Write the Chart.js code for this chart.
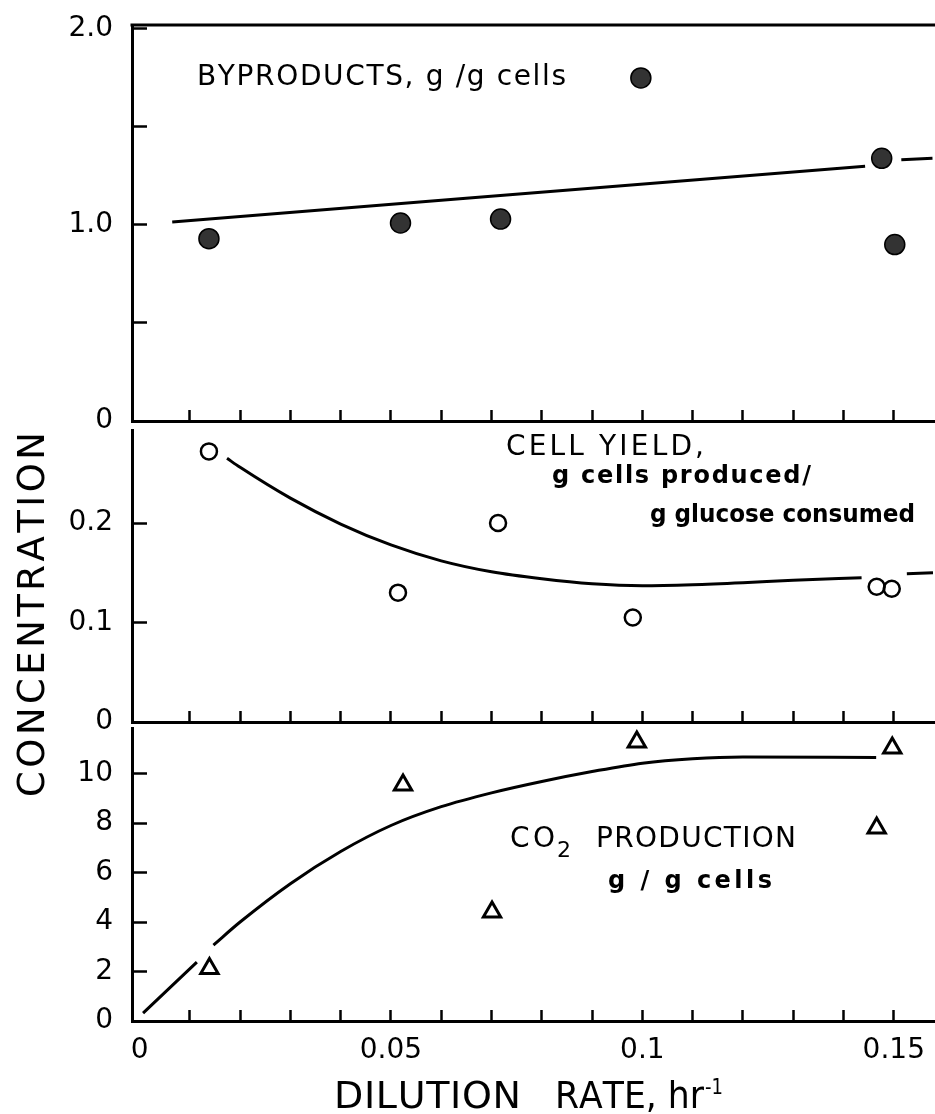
<!DOCTYPE html>
<html>
<head>
<meta charset="utf-8">
<script src="https://cdn.jsdelivr.net/npm/chart.js@4.4.1/dist/chart.umd.min.js"></script>
<style>
  html, body { margin: 0; padding: 0; background: #fff; }
  #sheet { position: relative; width: 935px; height: 1114px; overflow: hidden; background: #fff; }
  #sheet canvas { position: absolute; left: 0; top: 0; }
</style>
</head>
<body>
<div id="sheet">
  <canvas id="byproducts" width="935" height="1114"></canvas>
  <canvas id="yield" width="935" height="1114"></canvas>
  <canvas id="co2" width="935" height="1114"></canvas>
</div>
<script>
// ---- Dilution rate axis (hr^-1), shared by all three panels ----
const X_MIN = -0.0015;
const X_MAX = 0.1582;
const X_TICKS = [0, 0.01, 0.02, 0.03, 0.04, 0.05, 0.06, 0.07, 0.08, 0.09, 0.10, 0.11, 0.12, 0.13, 0.14, 0.15];
const X_TICK_LABELS = ['0', '', '', '', '', '0.05', '', '', '', '', '0.1', '', '', '', '', '0.15'];

// ---- Byproducts, g/g cells ----
const BYPRODUCT_RATE = [0.0138, 0.0519, 0.0718, 0.0997, 0.1476, 0.1502];
const BYPRODUCT_VALUE = [0.93, 1.01, 1.03, 1.75, 1.34, 0.90];
const BYPRODUCT_FIT_RATE = [0.0065, 0.1443, 0.1480, 0.1515, 0.1577];
const BYPRODUCT_FIT_VALUE = [1.015, 1.300, null, 1.333, 1.340];
const BYPRODUCT_TICKS = [0, 0.5, 1.0, 1.5, 2.0];
const BYPRODUCT_TICK_LABELS = ['0', '', '1.0', '', '2.0'];

// ---- Cell yield, g cells produced / g glucose consumed ----
const YIELD_RATE = [0.0138, 0.0514, 0.0713, 0.0981, 0.1466, 0.1496];
const YIELD_VALUE = [0.272, 0.130, 0.200, 0.105, 0.136, 0.134];
const YIELD_FIT_RATE = [0.0174, 0.02, 0.03, 0.04, 0.05, 0.06, 0.07, 0.08, 0.09, 0.10, 0.11, 0.12, 0.13, 0.1436, 0.1480, 0.1526, 0.1578];
const YIELD_FIT_VALUE = [0.265, 0.256, 0.225, 0.199, 0.178, 0.162, 0.151, 0.144, 0.139, 0.137, 0.138, 0.140, 0.1425, 0.145, null, 0.149, 0.150];
const YIELD_TICKS = [0, 0.1, 0.2];
const YIELD_TICK_LABELS = ['0', '0.1', '0.2'];

// ---- CO2 production, g/g cells ----
const CO2_RATE = [0.0139, 0.0524, 0.0701, 0.0989, 0.1466, 0.1497];
const CO2_VALUE = [2.12, 9.54, 4.40, 11.27, 7.80, 11.03];
const CO2_FIT_RATE = [0.0007, 0.0114, 0.0130, 0.0147, 0.02, 0.03, 0.04, 0.05, 0.06, 0.07, 0.08, 0.09, 0.10, 0.11, 0.12, 0.1465];
const CO2_FIT_VALUE = [0.32, 2.38, null, 3.07, 4.00, 5.55, 6.85, 7.90, 8.66, 9.22, 9.68, 10.08, 10.42, 10.60, 10.67, 10.65];
const CO2_TICKS = [0, 2, 4, 6, 8, 10];
const CO2_TICK_LABELS = ['0', '2', '4', '6', '8', '10'];

// ---- page geometry ----
const PAGE_H = 1114;
const AXIS_LEFT = 132;
const INK = '#000';
const FONT = '"DejaVu Sans", "Liberation Sans", sans-serif';
const TICK_FONT = { family: FONT, size: 28 };

Chart.defaults.font.family = FONT;
Chart.defaults.color = INK;

const zip = (xs, ys) => xs.map((x, i) => ({ x, y: ys[i] }));

// Hand-lettered text: each glyph placed separately so the run fills a given width.
function drawLettering(ctx, item) {
  ctx.save();
  ctx.font = `${item.weight || 'normal'} ${item.size}px ${FONT}`;
  ctx.fillStyle = INK;
  ctx.textBaseline = 'alphabetic';
  ctx.textAlign = 'left';
  const chars = Array.from(item.text);
  const widths = chars.map(c => ctx.measureText(c).width);
  const natural = widths.reduce((a, b) => a + b, 0);
  let spacing = 0, sx = 1;
  if (item.width) {
    if (item.width >= natural) {
      spacing = chars.length > 1 ? (item.width - natural) / (chars.length - 1) : 0;
    } else {
      sx = item.width / natural;
    }
  }
  const total = natural + spacing * (chars.length - 1);
  ctx.translate(item.x, item.y);
  if (item.rotate) ctx.rotate(item.rotate);
  ctx.scale(sx, 1);
  let x = item.align === 'center' ? -total / 2 : 0;
  chars.forEach((c, i) => {
    ctx.fillText(c, x, 0);
    x += widths[i] + spacing;
  });
  ctx.restore();
}

const letteringPlugin = {
  id: 'lettering',
  afterDraw(chart, args, opts) {
    (opts.items || []).forEach(item => drawLettering(chart.ctx, item));
  }
};

const topFramePlugin = {
  id: 'topFrame',
  afterDraw(chart, args, opts) {
    if (!opts.show) return;
    const { ctx, chartArea } = chart;
    ctx.save();
    ctx.strokeStyle = INK;
    ctx.lineWidth = 3;
    ctx.beginPath();
    ctx.moveTo(chartArea.left - 1.5, chartArea.top);
    ctx.lineTo(chartArea.right, chartArea.top);
    ctx.stroke();
    ctx.restore();
  }
};

function xScale(areaBottom, showLabels) {
  return {
    type: 'linear',
    min: X_MIN,
    max: X_MAX,
    afterBuildTicks: s => { s.ticks = X_TICKS.map(v => ({ value: v })); },
    afterFit: s => {
      s.height = PAGE_H - areaBottom;
      s.paddingLeft = 0; s.paddingRight = 0; s.paddingTop = 0; s.paddingBottom = 0;
    },
    ticks: {
      display: showLabels,
      autoSkip: false,
      maxRotation: 0,
      padding: 24,
      font: TICK_FONT,
      color: INK,
      callback: (v, i) => X_TICK_LABELS[i]
    },
    grid: {
      drawOnChartArea: false,
      drawTicks: true,
      tickLength: -11,
      tickWidth: 2.5,
      tickColor: c => (c.tick && c.tick.value === 0 ? 'rgba(0,0,0,0)' : INK)
    },
    border: { display: true, color: INK, width: 3 }
  };
}

function yScale(min, max, ticks, labels) {
  return {
    type: 'linear',
    min,
    max,
    afterBuildTicks: s => { s.ticks = ticks.map(v => ({ value: v })); },
    afterFit: s => {
      s.width = AXIS_LEFT;
      s.paddingLeft = 0; s.paddingRight = 0; s.paddingTop = 0; s.paddingBottom = 0;
    },
    ticks: {
      autoSkip: false,
      padding: 34,
      font: TICK_FONT,
      color: INK,
      callback: (v, i) => labels[i]
    },
    grid: {
      drawOnChartArea: false,
      drawTicks: true,
      tickLength: -15,
      tickWidth: 2.5,
      tickColor: INK
    },
    border: { display: true, color: INK, width: 3 }
  };
}

function fitLine(xs, ys) {
  return {
    data: zip(xs, ys),
    showLine: true,
    spanGaps: false,
    borderColor: INK,
    borderWidth: 3,
    pointRadius: 0,
    cubicInterpolationMode: 'monotone',
    fill: false
  };
}

function panel(id, cfg) {
  return new Chart(document.getElementById(id), {
    type: 'scatter',
    data: { datasets: [cfg.points, cfg.fit] },
    options: {
      responsive: false,
      animation: false,
      devicePixelRatio: 1,
      events: [],
      layout: { autoPadding: false, padding: { top: cfg.top, left: 0, right: 0, bottom: 0 } },
      scales: {
        x: xScale(cfg.bottom, cfg.xLabels),
        y: yScale(cfg.yMin, cfg.yMax, cfg.yTicks, cfg.yLabels)
      },
      plugins: {
        legend: { display: false },
        tooltip: { enabled: false },
        lettering: { items: cfg.text },
        topFrame: { show: !!cfg.topFrame }
      }
    },
    plugins: [letteringPlugin, topFramePlugin]
  });
}

// Upper panel: byproducts
panel('byproducts', {
  top: 25, bottom: 421, yMin: 0, yMax: 2.02,
  yTicks: BYPRODUCT_TICKS, yLabels: BYPRODUCT_TICK_LABELS,
  xLabels: false, topFrame: true,
  points: {
    data: zip(BYPRODUCT_RATE, BYPRODUCT_VALUE),
    pointStyle: 'circle', pointRadius: 10,
    backgroundColor: '#333', borderColor: INK, borderWidth: 1.5
  },
  fit: fitLine(BYPRODUCT_FIT_RATE, BYPRODUCT_FIT_VALUE),
  text: [
    { text: 'BYPRODUCTS, g /g cells', x: 197, y: 85, size: 28, width: 369 }
  ]
});

// Middle panel: cell yield
panel('yield', {
  top: 430, bottom: 722, yMin: 0, yMax: 0.2935,
  yTicks: YIELD_TICKS, yLabels: YIELD_TICK_LABELS,
  xLabels: false,
  points: {
    data: zip(YIELD_RATE, YIELD_VALUE),
    pointStyle: 'circle', pointRadius: 8,
    backgroundColor: 'rgba(0,0,0,0)', borderColor: INK, borderWidth: 2.5
  },
  fit: fitLine(YIELD_FIT_RATE, YIELD_FIT_VALUE),
  text: [
    { text: 'CELL YIELD,', x: 506, y: 455, size: 28, width: 198 },
    { text: 'g cells produced/', x: 552, y: 483, size: 24, weight: 'bold', width: 259 },
    { text: 'g glucose consumed', x: 650, y: 522, size: 24, weight: 'bold', width: 265 }
  ]
});

// Lower panel: CO2 production, with the shared axis titles
panel('co2', {
  top: 728, bottom: 1021, yMin: 0, yMax: 11.84,
  yTicks: CO2_TICKS, yLabels: CO2_TICK_LABELS,
  xLabels: true,
  points: {
    data: zip(CO2_RATE, CO2_VALUE),
    pointStyle: 'triangle', pointRadius: 10,
    backgroundColor: 'rgba(0,0,0,0)', borderColor: INK, borderWidth: 3
  },
  fit: fitLine(CO2_FIT_RATE, CO2_FIT_VALUE),
  text: [
    { text: 'CO', x: 510, y: 847, size: 28, width: 45 },
    { text: '2', x: 557, y: 857, size: 22 },
    { text: 'PRODUCTION', x: 596, y: 847, size: 28, width: 200 },
    { text: 'g / g cells', x: 608, y: 888, size: 24, weight: 'bold', width: 164 },
    { text: 'CONCENTRATION', x: 44, y: 614.5, size: 37, width: 365, align: 'center', rotate: -Math.PI / 2 },
    { text: 'DILUTION', x: 334, y: 1108, size: 38, width: 187 },
    { text: 'RATE, hr', x: 555, y: 1108, size: 38, width: 149 },
    { text: '-1', x: 705, y: 1094, size: 22, width: 18 }
  ]
});
</script>
</body>
</html>
